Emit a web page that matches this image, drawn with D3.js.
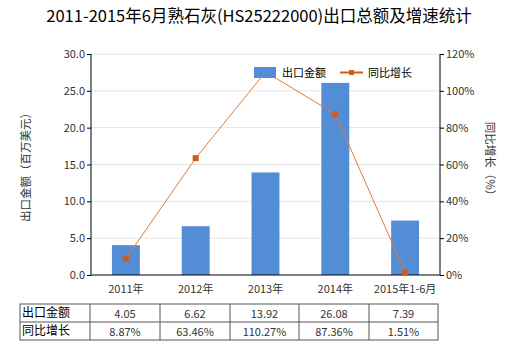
<!DOCTYPE html>
<html>
<head>
<meta charset="utf-8">
<script src="https://cdn.jsdelivr.net/npm/d3@7"></script>
<style>
  body { margin: 0; background: #fff; }
  text { font-family: "Noto Sans CJK SC", "Noto Sans", sans-serif; }
</style>
</head>
<body>
<div class="chart"></div>
<script>
// data
var categories = ["2011年", "2012年", "2013年", "2014年", "2015年1-6月"];
var exportValues = [4.05, 6.62, 13.92, 26.08, 7.39];
var growthRates = [8.87, 63.46, 110.27, 87.36, 1.51];
var leftTicks = [0, 5, 10, 15, 20, 25, 30];
var rightTicks = [0, 20, 40, 60, 80, 100, 120];

var width = 520, height = 350;
var plot = { left: 91, right: 440, top: 54, bottom: 275 };

var svg = d3.select(".chart").append("svg")
    .attr("width", width)
    .attr("height", height);

// title
svg.append("text")
    .attr("x", 259).attr("y", 22)
    .attr("text-anchor", "middle")
    .style("font-size", "16.5px")
    .style("font-weight", "normal")
    .style("fill", "#000")
    .text("2011-2015年6月熟石灰(HS25222000)出口总额及增速统计");

var x = d3.scaleBand().domain(categories).range([plot.left, plot.right]).paddingInner(0.6).paddingOuter(0.3);
var yLeft = d3.scaleLinear().domain([0, 30]).range([plot.bottom, plot.top]);
var yRight = d3.scaleLinear().domain([0, 120]).range([plot.bottom, plot.top]);

// gridlines
svg.append("g").selectAll("line")
    .data(leftTicks.slice(1))
    .enter().append("line")
    .attr("x1", plot.left).attr("x2", plot.right)
    .attr("y1", function(d) { return yLeft(d); })
    .attr("y2", function(d) { return yLeft(d); })
    .attr("stroke", "#e4e4e4")
    .attr("stroke-width", 1);

// bars
svg.append("g").selectAll("rect")
    .data(exportValues)
    .enter().append("rect")
    .attr("x", function(d, i) { return x(categories[i]); })
    .attr("y", function(d) { return yLeft(d); })
    .attr("width", x.bandwidth())
    .attr("height", function(d) { return plot.bottom - yLeft(d); })
    .attr("fill", "#538dd5");

// axes
var leftAxis = d3.axisLeft(yLeft).tickValues(leftTicks).tickFormat(d3.format(".1f")).tickSize(4).tickPadding(2);
var rightAxis = d3.axisRight(yRight).tickValues(rightTicks).tickFormat(function(d) { return d + "%"; }).tickSize(4).tickPadding(2);

var gl = svg.append("g").attr("transform", "translate(" + plot.left + ",0)").call(leftAxis);
var gr = svg.append("g").attr("transform", "translate(" + plot.right + ",0)").call(rightAxis);
[gl, gr].forEach(function(g) {
    g.select(".domain").attr("stroke", "#000").attr("d", "M0," + plot.top + "V" + plot.bottom);
    g.selectAll(".tick line").attr("stroke", "#000");
    g.selectAll(".tick text").style("font-size", "11px").style("fill", "#333")
        .style("font-family", "'Noto Sans CJK SC', sans-serif");
});

// baseline
svg.append("line")
    .attr("x1", plot.left).attr("x2", plot.right)
    .attr("y1", plot.bottom).attr("y2", plot.bottom)
    .attr("stroke", "#000");

// category labels
svg.append("g").selectAll("text")
    .data(categories)
    .enter().append("text")
    .attr("x", function(d) { return x(d) + x.bandwidth() / 2; })
    .attr("y", 293)
    .attr("text-anchor", "middle")
    .style("font-size", "11px")
    .style("fill", "#333")
    .text(function(d) { return d; });

// growth line
var line = d3.line()
    .x(function(d, i) { return x(categories[i]) + x.bandwidth() / 2; })
    .y(function(d) { return yRight(d); });

svg.append("path")
    .datum(growthRates)
    .attr("d", line)
    .attr("fill", "none")
    .attr("stroke", "#e07b39")
    .attr("stroke-width", 1);

svg.append("g").selectAll("rect")
    .data(growthRates)
    .enter().append("rect")
    .attr("x", function(d, i) { return x(categories[i]) + x.bandwidth() / 2 - 3; })
    .attr("y", function(d) { return yRight(d) - 3; })
    .attr("width", 6).attr("height", 6)
    .attr("fill", "#d25b16");

// axis titles
svg.append("text")
    .attr("transform", "translate(30," + ((plot.top + plot.bottom) / 2) + ") rotate(-90)")
    .attr("text-anchor", "middle")
    .style("font-size", "11.5px")
    .style("fill", "#333")
    .text("出口金额（百万美元）");

svg.append("text")
    .attr("transform", "translate(486," + ((plot.top + plot.bottom) / 2 - 3) + ") rotate(90)")
    .attr("text-anchor", "middle")
    .style("font-size", "11.5px")
    .style("fill", "#333")
    .text("同比增长（%）");

// legend
var legend = svg.append("g");
legend.append("rect")
    .attr("x", 254).attr("y", 67).attr("width", 22).attr("height", 11)
    .attr("fill", "#538dd5");
legend.append("text")
    .attr("x", 282).attr("y", 77)
    .style("font-size", "11px").style("fill", "#000")
    .text("出口金额");
legend.append("line")
    .attr("x1", 340).attr("x2", 363).attr("y1", 72.5).attr("y2", 72.5)
    .attr("stroke", "#d25b16").attr("stroke-width", 2);
legend.append("rect")
    .attr("x", 349).attr("y", 70).attr("width", 5).attr("height", 5)
    .attr("fill", "#d25b16");
legend.append("text")
    .attr("x", 368).attr("y", 77)
    .style("font-size", "11px").style("fill", "#000")
    .text("同比增长");

// data table
var colEdges = [20, 90, 160, 230, 299, 369, 438];
var rowEdges = [304, 322, 340];
var table = svg.append("g");
var rows = [
    { label: "出口金额", values: exportValues.map(function(v) { return v.toFixed(2); }) },
    { label: "同比增长", values: growthRates.map(function(v) { return v.toFixed(2) + "%"; }) }
];

table.append("rect")
    .attr("x", colEdges[0]).attr("y", rowEdges[0])
    .attr("width", colEdges[6] - colEdges[0]).attr("height", rowEdges[2] - rowEdges[0])
    .attr("fill", "none").attr("stroke", "#555");
table.append("line")
    .attr("x1", colEdges[0]).attr("x2", colEdges[6])
    .attr("y1", rowEdges[1]).attr("y2", rowEdges[1])
    .attr("stroke", "#555");
colEdges.slice(1, 6).forEach(function(cx) {
    table.append("line")
        .attr("x1", cx).attr("x2", cx)
        .attr("y1", rowEdges[0]).attr("y2", rowEdges[2])
        .attr("stroke", "#555");
});

rows.forEach(function(row, r) {
    var ty = rowEdges[r] + 14;
    table.append("text")
        .attr("x", colEdges[0] + 2).attr("y", ty - 1)
        .style("font-size", "12px").style("fill", "#000")
        .text(row.label);
    row.values.forEach(function(v, i) {
        table.append("text")
            .attr("x", (colEdges[i + 1] + colEdges[i + 2]) / 2).attr("y", ty)
            .attr("text-anchor", "middle")
            .style("font-size", "11px").style("fill", "#333")
            .text(v);
    });
});
</script>
</body>
</html>
